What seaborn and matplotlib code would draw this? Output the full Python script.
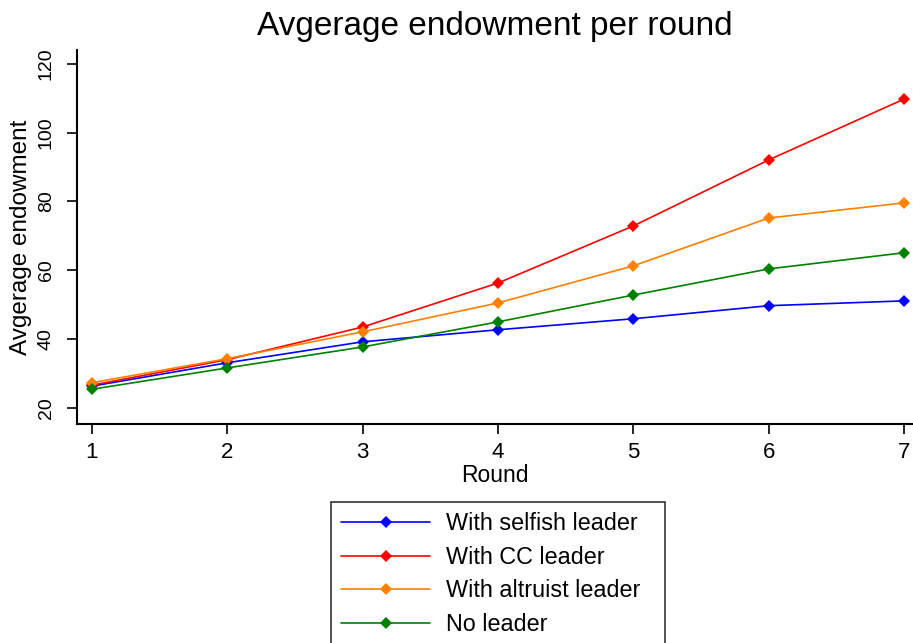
import pandas as pd
import seaborn as sns
import matplotlib.pyplot as plt

rounds = [1, 2, 3, 4, 5, 6, 7]
selfish = [26.3, 33.1, 39.2, 42.7, 45.9, 49.7, 51.1]
cc = [26.6, 34.0, 43.5, 56.3, 72.9, 92.1, 109.8]
altruist = [27.3, 34.3, 42.1, 50.5, 61.3, 75.2, 79.6]
no_leader = [25.4, 31.6, 37.7, 45.0, 52.8, 60.4, 65.1]

labels = ['With selfish leader', 'With CC leader', 'With altruist leader', 'No leader']
colors = ['#0000ff', '#ff0000', '#ff8000', '#008000']

df = pd.concat([
    pd.DataFrame({'Round': rounds, 'value': vals, 'group': lab})
    for vals, lab in zip([selfish, cc, altruist, no_leader], labels)
])

sns.set_style('white')
plt.rcParams['font.family'] = ['Liberation Sans', 'DejaVu Sans']
plt.rcParams.update({'text.color': 'black', 'axes.labelcolor': 'black',
                     'xtick.color': 'black', 'ytick.color': 'black'})

fig = plt.figure(figsize=(9.13, 6.43), dpi=100)
ax = fig.add_axes([0.0843, 0.3406, 0.915, 0.5814])

sns.lineplot(data=df, x='Round', y='value', hue='group', hue_order=labels,
             palette=colors, marker='D', markersize=6.5, markeredgewidth=0,
             linewidth=1.2, ax=ax, legend=True)

ax.set_xlim(0.89, 7.06)
ax.set_ylim(15.3, 124)
ax.set_xticks(rounds)
ax.set_yticks([20, 40, 60, 80, 100, 120])
ax.tick_params(axis='both', which='both', direction='out', length=7, width=1.2,
               color='black', labelcolor='black', left=True, bottom=True)
ax.tick_params(axis='x', labelsize=16, pad=6)
ax.tick_params(axis='y', labelsize=14, pad=9)
for lab in ax.get_yticklabels():
    lab.set_rotation(90)
    lab.set_va('center')
ax.spines['top'].set_visible(False)
ax.spines['right'].set_visible(False)
for s in ['left', 'bottom']:
    ax.spines[s].set_color('black')
    ax.spines[s].set_linewidth(1.5)

ax.set_xlabel('Round', fontsize=16.5, labelpad=1)
ax.set_ylabel('Avgerage endowment', fontsize=17.5, labelpad=4)
ax.set_title('Avgerage endowment per round', fontsize=24, pad=11)

# legend box below the plot, left-aligned content inside a wider frame
handles, _ = ax.get_legend_handles_labels()
ax.get_legend().remove()
leg = fig.legend(handles, labels, loc='upper left', mode='expand',
                 bbox_to_anchor=(0.3625, 0.0, 0.3658, 0.2193),
                 fontsize=16.8, frameon=True, fancybox=False, edgecolor='black',
                 handlelength=3.8, handletextpad=0.7, borderpad=0.45,
                 labelspacing=0.45, borderaxespad=0)
leg.get_frame().set_linewidth(1.2)

fig.savefig('out.png', dpi=100)
